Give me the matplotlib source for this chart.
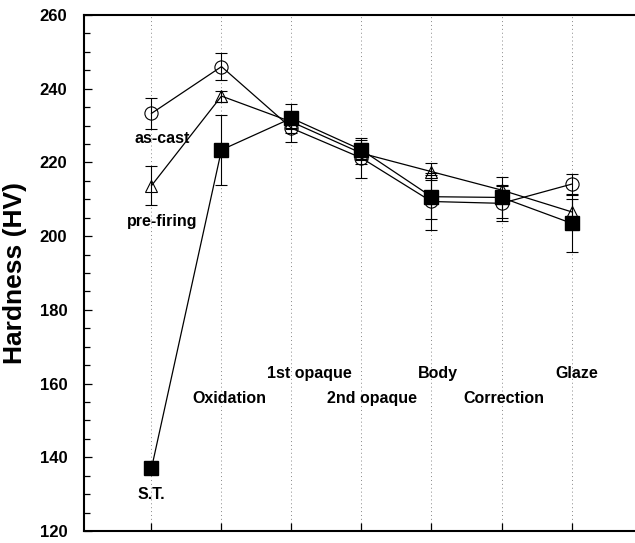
import matplotlib
matplotlib.use("Agg")
import matplotlib.pyplot as plt
import numpy as np
from matplotlib.ticker import MultipleLocator

plt.rcParams["font.family"] = ["Liberation Sans", "DejaVu Sans"]
plt.rcParams["font.weight"] = "bold"

# process steps (x positions 0..6)
steps = ["S.T.", "Oxidation", "1st opaque", "2nd opaque", "Body", "Correction", "Glaze"]
x = np.arange(len(steps))

# hardness values
as_cast = [233.3, 246.0, 229.3, 221.2, 209.4, 208.9, 214.1]
as_cast_err = [4.3, 3.6, 3.8, 5.5, 7.7, 4.8, 2.8]
pre_firing = [213.7, 238.0, 231.0, 222.5, 217.5, 212.5, 206.6]
pre_firing_err = [5.2, 1.5, 2.0, 2.9, 2.3, 1.5, 3.5]
treated = [137.0, 223.4, 232.0, 223.4, 210.7, 210.5, 203.5]
treated_err = [0.0, 9.5, 3.9, 2.7, 6.0, 5.5, 7.7]

# label placement (data coords)
step_label_x = [0.0, 1.11, 2.26, 3.15, 4.09, 5.03, 6.07]
step_label_y = [130.0, 155.9, 162.7, 155.9, 162.7, 155.9, 162.7]

fig = plt.figure(figsize=(6.35, 5.43), dpi=100)
ax = fig.add_axes([84 / 635, 12 / 543, 1 - 84 / 635, 516 / 543])

for xi in x:
    ax.axvline(xi, color="#888888", linestyle=(0, (1, 3)), linewidth=0.7, zorder=0)

common = dict(color="black", linewidth=0.9, elinewidth=0.8, capsize=4.5, capthick=0.8)
ax.errorbar(x, as_cast, yerr=as_cast_err, marker="o", markersize=9.5,
            markerfacecolor="none", markeredgecolor="black", markeredgewidth=0.8, **common)
ax.errorbar(x, pre_firing, yerr=pre_firing_err, marker="^", markersize=9,
            markerfacecolor="none", markeredgecolor="black", markeredgewidth=0.8, **common)
ax.errorbar(x, treated, yerr=treated_err, marker="s", markersize=9.5,
            markerfacecolor="black", markeredgecolor="black", **common)

for lbl, lx, ly in zip(steps, step_label_x, step_label_y):
    ax.text(lx, ly, lbl, ha="center", va="center", fontsize=11.5, fontweight="bold")

ax.text(0.16, 226.5, "as-cast", ha="center", va="center", fontsize=11.5, fontweight="bold")
ax.text(0.15, 204.1, "pre-firing", ha="center", va="center", fontsize=11.5, fontweight="bold")

ax.set_xlim(-0.964, 6.907)
ax.set_ylim(120, 260)
ax.set_xticks(x)
ax.set_xticklabels([])
ax.yaxis.set_major_locator(MultipleLocator(20))
ax.yaxis.set_minor_locator(MultipleLocator(5))
ax.tick_params(axis="both", which="major", direction="in", length=6, width=0.9)
ax.tick_params(axis="y", which="minor", direction="in", length=4, width=0.9)
ax.tick_params(axis="y", labelsize=12, pad=12)
for lab in ax.get_yticklabels():
    lab.set_fontweight("bold")

for side in ["left", "bottom", "top"]:
    ax.spines[side].set_linewidth(1.5)
ax.spines["right"].set_visible(False)

ax.set_ylabel("Hardness (HV)", fontsize=19, fontweight="bold")
ax.yaxis.set_label_coords(-0.103, 0.5)

fig.savefig("out.png", dpi=100)
